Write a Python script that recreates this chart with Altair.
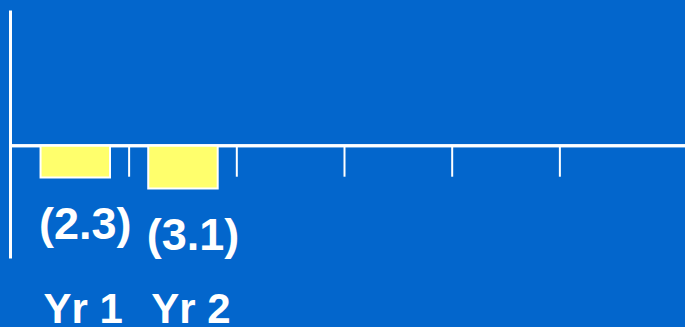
import json

import altair as alt
import pandas as pd

# Year slots on the category axis; only the first ones carry values so far
years = ["Yr 1", "Yr 2", "Yr 3", "Yr 4", "Yr 5", "Yr 6"]
reported_years = ["Yr 1", "Yr 2"]
values = [-2.3, -3.1]

BLUE = "#0366CC"
YELLOW = "#FFFF6C"
WHITE = "#FFFFFF"
FONT = "Liberation Sans, Arial, sans-serif"

bars_df = pd.DataFrame({"year": reported_years, "value": values})
ticks_df = pd.DataFrame({"year": years[:-1]})

x_scale = alt.Scale(domain=years, paddingInner=0, paddingOuter=0.134, align=0.396)
y_scale = alt.Scale(domain=[-8.15, 9.85], nice=False, zero=False)

label_expr = (
    "indexof(" + json.dumps(reported_years) + ", datum.value) >= 0 ? datum.label : ''"
)

x_enc = alt.X(
    "year:N",
    scale=x_scale,
    sort=years,
    axis=alt.Axis(
        title=None,
        domain=False,
        ticks=False,
        tickSize=0,
        labelExpr=label_expr,
        labelColor=WHITE,
        labelFont=FONT,
        labelFontSize=42,
        labelFontWeight="bold",
        labelPadding=31,
        labelOffset=8,
        labelAngle=0,
    ),
)
y_enc = alt.Y(
    "value:Q",
    scale=y_scale,
    axis=alt.Axis(
        title=None,
        labels=False,
        ticks=False,
        grid=False,
        domainColor=WHITE,
        domainWidth=3,
    ),
)

bars = (
    alt.Chart(bars_df)
    .mark_bar(color=YELLOW, stroke=WHITE, strokeWidth=2, width=alt.RelativeBandSize(0.645))
    .encode(x=x_enc, y=y_enc, y2=alt.datum(0))
)

zero_line = (
    alt.Chart(bars_df)
    .mark_rule(color=WHITE, strokeWidth=3)
    .encode(y=alt.datum(0, scale=y_scale))
)

# short dividers hanging below the zero line at each slot boundary
dividers = (
    alt.Chart(ticks_df)
    .mark_rule(color=WHITE, strokeWidth=2, y2Offset=31)
    .encode(
        x=alt.X("year:N", scale=x_scale, sort=years, bandPosition=1),
        y=alt.datum(0, scale=y_scale),
        y2=alt.datum(0),
    )
)

value_labels = (
    alt.Chart(bars_df)
    .transform_calculate(label="'(' + format(abs(datum.value), '.1f') + ')'")
    .mark_text(
        color=WHITE,
        font=FONT,
        fontSize=45,
        fontWeight="bold",
        baseline="alphabetic",
        align="center",
        dy=61.5,
        dx=10,
    )
    .encode(x=alt.X("year:N", scale=x_scale, sort=years), y=alt.Y("value:Q", scale=y_scale), text="label:N")
)

chart = (
    alt.layer(zero_line, bars, dividers, value_labels)
    .properties(
        width=675,
        height=248,
        autosize=alt.AutoSizeParams(type="none"),
        padding={"left": 10, "top": 10, "right": 0, "bottom": 69},
        background=BLUE,
    )
    .configure_view(stroke=None)
)

chart.save("out.html", embed_options={"renderer": "svg", "actions": False})
